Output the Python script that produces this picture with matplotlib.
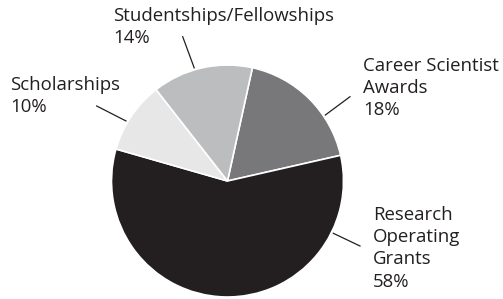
import numpy as np
import matplotlib.pyplot as plt

# datos del grafico
categorias = ['Career Scientist\nAwards', 'Research\nOperating\nGrants', 'Scholarships', 'Studentships/Fellowships']
porcentajes = [18, 58, 10, 14]
colores = ['#78787b', '#231f20', '#e7e7e8', '#bcbdbf']

W, H = 503, 299
fig = plt.figure(figsize=(W/100, H/100), dpi=100)
ax = fig.add_axes([0, 0, 1, 1])

# pie en coordenadas de pixel (y hacia arriba)
cx, cy, r = 227.5, H - 181, 116
ax.pie(porcentajes, colors=colores, startangle=77.6, counterclock=False,
       center=(cx, cy), radius=r, frame=True,
       wedgeprops=dict(edgecolor='white', linewidth=1.2))
ax.set_xlim(0, W)
ax.set_ylim(0, H)
ax.set_aspect('equal')
ax.axis('off')

# posiciones de etiquetas (esquina superior izquierda) y lineas guia
pos_texto = [(363, 57), (373, 206), (10, 76), (113, 7)]
ang_linea = [34, -26.3, 149.4, 106.4]
fin_linea = [(350, 96.7), (360, 246), (96.7, 106), (182.7, 36.7)]

for cat, p, (tx, ty), a, (lx, ly) in zip(categorias, porcentajes, pos_texto, ang_linea, fin_linea):
    ax.text(tx, H - ty, f'{cat}\n{p}%', ha='left', va='top', fontsize=13.4,
            family='Open Sans', color='#231f20', linespacing=1.3)
    t = np.deg2rad(a)
    x0 = cx + (r + 2) * np.cos(t)
    y0 = cy + (r + 2) * np.sin(t)
    ax.plot([x0, lx], [y0, H - ly], color='#231f20', lw=0.9)

fig.savefig('out.png', dpi=100)
